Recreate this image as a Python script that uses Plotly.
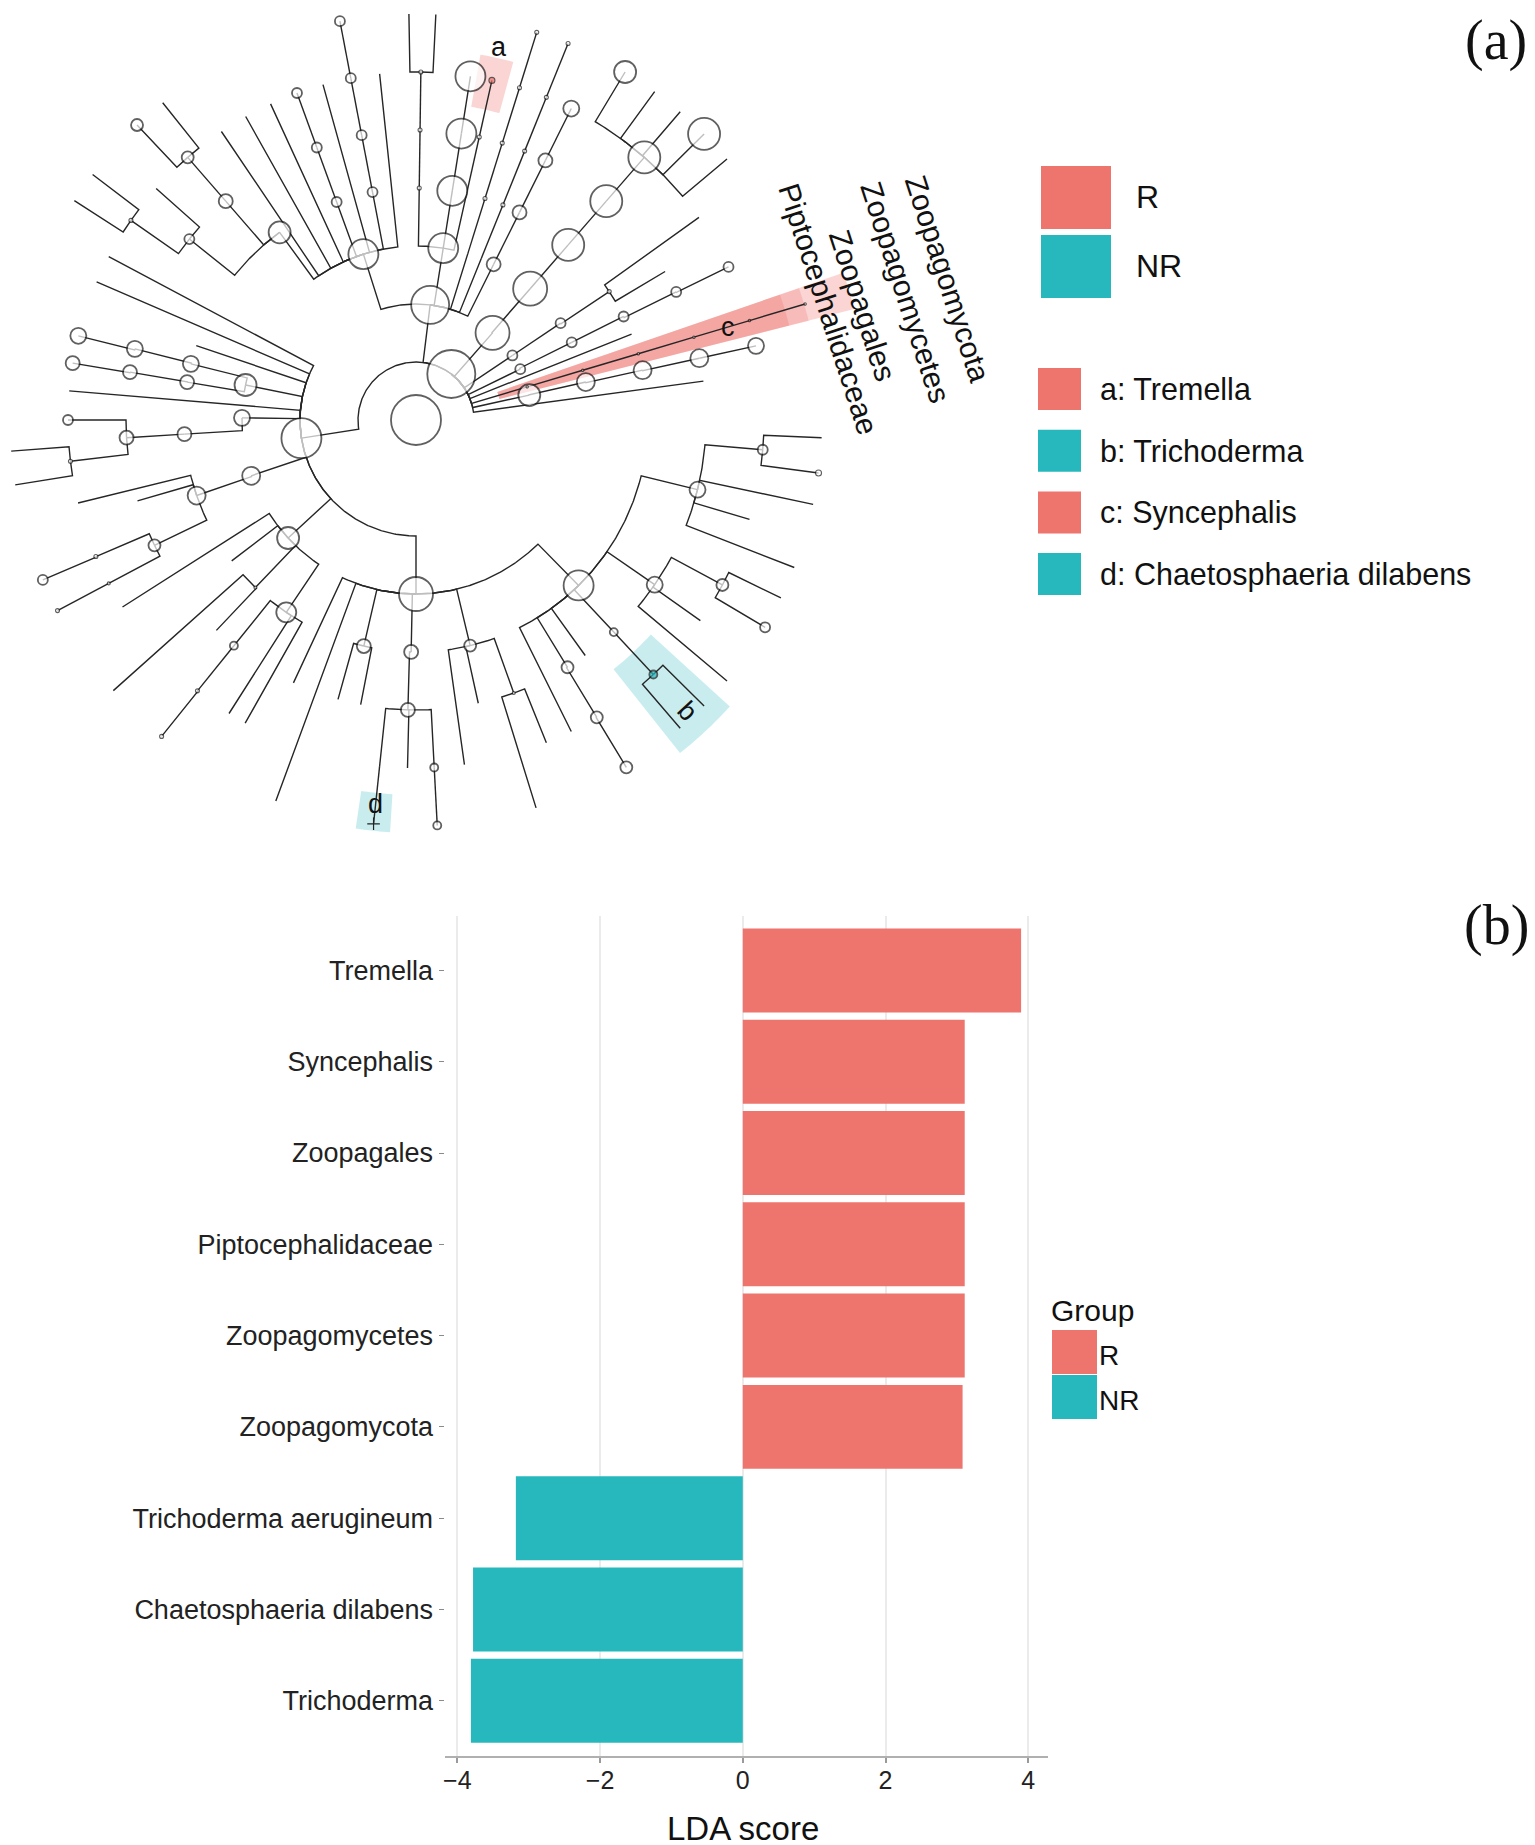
import math
import plotly.graph_objects as go

# ---------------- (b) LDA bar chart data ----------------
taxa = ["Tremella", "Syncephalis", "Zoopagales", "Piptocephalidaceae",
        "Zoopagomycetes", "Zoopagomycota", "Trichoderma aerugineum",
        "Chaetosphaeria dilabens", "Trichoderma"]
lda_score = [3.90, 3.11, 3.11, 3.11, 3.11, 3.08, -3.18, -3.78, -3.81]
taxon_group = ["R", "R", "R", "R", "R", "R", "NR", "NR", "NR"]
lda_ticks = [-4, -2, 0, 2, 4]
lda_tick_text = ["\u22124", "\u22122", "0", "2", "4"]
groups = ["R", "NR"]
group_color = {"R": "#EE746E", "NR": "#27B8BE"}

# ---------------- (a) cladogram data ----------------
# (node, parent, depth level, angle [deg, clockwise from east], node circle radius)
stem_nodes = [
    ("root", None, 0, 0, 25),
    ("V", None, 1, 240, 0),
    ("A", "V", 1, 307.5, 24),
    ("B", "V", 2, 171, 20),
]
clade_upper = [
    ("N1", "A", 2, 277, 19),
    ("c3", "N1", 3, 279, 15), ("c4", "c3", 4, 279, 15), ("c5", "c4", 5, 279, 15), ("c6", "c5", 6, 279, 15),
    ("p4", "c3", 4, 270.8, 2), ("p5", "p4", 5, 270.8, 2), ("p6", "p5", 6, 270.8, 2),
    ("p7a", "p6", 7, 269, 0), ("p7b", "p6", 7, 272.8, 0),
    ("a4", "c3", 4, 282.6, 0), ("a5", "a4", 5, 282.6, 2), ("a6", "a5", 6, 282.6, 3),
    ("al3", "N1", 3, 287.3, 0), ("al4", "al3", 4, 287.3, 2), ("al5", "al4", 5, 287.3, 2),
    ("al6", "al5", 6, 287.3, 2), ("al7", "al6", 7, 287.3, 2),
    ("be3", "N1", 3, 292, 0), ("be4", "be3", 4, 292, 2), ("be5", "be4", 5, 292, 2),
    ("be6", "be5", 6, 292, 2), ("be7", "be6", 7, 292, 2),
    ("ga3", "N1", 3, 296.5, 7), ("ga4", "ga3", 4, 296.5, 7), ("ga5", "ga4", 5, 296.5, 7), ("ga6", "ga5", 6, 296.5, 8),
    ("N2", "N1", 3, 252.4, 15),
    ("m4", "N2", 4, 259.2, 5), ("m5", "m4", 5, 259.2, 5), ("m6", "m5", 6, 259.2, 5), ("m7", "m6", 7, 259.2, 5),
    ("q4", "N2", 4, 250, 5), ("q5", "q4", 5, 250, 5), ("q6", "q5", 6, 250, 5),
    ("L1", "N2", 6, 264, 0), ("L2", "N2", 6, 254.5, 0), ("L3", "N2", 6, 245.3, 0),
    ("L4", "N2", 6, 240.7, 0), ("L5", "N2", 6, 236, 0),
    ("N3", "N2", 4, 234, 11),
    ("r5", "N3", 5, 229, 7), ("r6", "r5", 6, 229, 6), ("r7", "r6", 7, 226.6, 6), ("r7b", "r6", 7, 231.4, 0),
    ("s5", "N3", 5, 218.6, 5), ("s6", "s5", 6, 215, 2), ("s7a", "s6", 7, 217.2, 0),
    ("s7b", "s6", 7, 212.7, 0), ("s6b", "s5", 6, 221.7, 0),
]
clade_right = [
    ("h2", "A", 2, 311.3, 17), ("h3", "h2", 3, 311, 17), ("h4", "h3", 4, 311, 16),
    ("h5", "h4", 5, 311, 16), ("h6", "h5", 6, 311, 16),
    ("h7a", "h6", 7, 301, 11), ("h7b", "h6", 7, 315.2, 16), ("h7c", "h6", 7, 306, 0),
    ("h7d", "h6", 7, 310.6, 0), ("h7e", "h6", 7, 320, 0),
    ("de2", "A", 2, 326.2, 5), ("de3", "de2", 3, 326.2, 5), ("de4", "de3", 4, 326.4, 2),
    ("de6", "de4", 6, 324.4, 0), ("de5", "de4", 5, 329.2, 0),
    ("ep2", "A", 2, 334, 5), ("ep3", "ep2", 3, 333.5, 5), ("ep4", "ep3", 4, 333.5, 5),
    ("ep5", "ep4", 5, 333.8, 5), ("ep6", "ep5", 6, 333.9, 5),
    ("lf4", "A", 4, 338.3, 0),
    ("z2", "A", 2, 343.4, 1.2), ("z3", "z2", 3, 343.4, 1.2), ("z4", "z3", 4, 343.4, 1.2),
    ("z5", "z4", 5, 343.4, 1.2), ("z6", "z5", 6, 343.4, 1.2), ("z7", "z6", 7, 343.4, 1.2),
    ("ze2", "A", 2, 347.6, 11), ("ze3", "ze2", 3, 347.4, 9), ("ze4", "ze3", 4, 347.6, 9),
    ("ze5", "ze4", 5, 347.7, 9), ("ze6", "ze5", 6, 347.7, 8),
    ("lf5", "A", 5, 352.3, 0),
]
clade_left = [
    ("Lb1", "B", 6, 208, 0), ("Lb2", "B", 6, 203.4, 0), ("Lb3", "B", 4, 198.7, 0),
    ("b3", "B", 3, 191.6, 11), ("b4a", "b3", 4, 194, 8), ("b5a", "b4a", 5, 194.2, 8), ("b6a", "b5a", 6, 194, 8),
    ("b4b", "b3", 4, 189.4, 7), ("b5b", "b4b", 5, 189.5, 7), ("b6b", "b5b", 6, 189.4, 7),
    ("Lb4", "B", 6, 184.8, 0),
    ("k3", "B", 3, 180.7, 8), ("k4", "k3", 4, 176.5, 7), ("k5", "k4", 5, 176.5, 7),
    ("k6a", "k5", 6, 180, 5), ("k6b", "k5", 6, 173.2, 2), ("k7a", "k6b", 7, 175.6, 0), ("k7b", "k6b", 7, 170.8, 0),
    ("g3", "B", 3, 161.3, 9), ("g4", "g3", 4, 161, 9), ("Lg1", "g4", 6, 166.2, 0), ("Lg2", "g4", 5, 163.8, 0),
    ("g5", "g4", 5, 154.4, 6), ("g6a", "g5", 6, 156.9, 2), ("g7a", "g6a", 7, 156.8, 5),
    ("g6b", "g5", 6, 152, 1.5), ("g7b", "g6b", 7, 152, 2),
    ("F", "B", 3, 137.3, 11),
    ("Lf1", "F", 6, 147.5, 0), ("Lf2", "F", 4, 142.6, 0),
    ("f4a", "F", 4, 133.8, 1.5), ("Lf3", "f4a", 5, 133.5, 0), ("Lf4", "f4a", 7, 138.2, 0),
    ("f4b", "F", 4, 124, 10), ("f5", "f4b", 5, 128.9, 4), ("f6", "f5", 6, 128.9, 2), ("f7", "f6", 7, 128.8, 2),
    ("Lf5", "f4b", 6, 122.5, 0), ("Lf6", "f4b", 6, 119.4, 0),
]
clade_lower = [
    ("C", "B", 3, 90, 17),
    ("Lc1", "C", 7, 110.2, 0), ("Lc2", "C", 5, 115, 0),
    ("c4a", "C", 4, 103, 7), ("Lc3", "c4a", 5, 105.6, 0), ("Lc4", "c4a", 5, 101, 0),
    ("cc4", "C", 4, 91.2, 7), ("cc5", "cc4", 5, 91.6, 7),
    ("dd6", "cc5", 6, 96, 0), ("dd7", "dd6", 7, 96, 0), ("Lc5", "cc5", 6, 91.4, 0),
    ("cc6b", "cc5", 6, 87, 4), ("cc7b", "cc6b", 7, 87, 4),
    ("c4c", "C", 4, 76.5, 6), ("Lc6", "c4c", 6, 82, 0), ("Lc7", "c4c", 5, 77.6, 0),
    ("c5c", "c4c", 5, 70.3, 1.5), ("Lc8", "c5c", 7, 72.8, 0), ("Lc9", "c5c", 6, 68, 0),
    ("D", "C", 4, 45.5, 15),
]
clade_d = [
    ("Ld1", "D", 6, 63.5, 0),
    ("d5a", "D", 5, 58.5, 6), ("d6a", "d5a", 6, 58.7, 6), ("d7a", "d6a", 7, 58.8, 6),
    ("Ld2", "D", 5, 54.3, 0),
    ("d5b", "D", 5, 47, 4), ("bT", "d5b", 6, 47, 4), ("Ld3", "bT", 7, 49.4, 0), ("Ld4", "bT", 7, 44.8, 0),
    ("d5c", "D", 5, 34.6, 8), ("Ld5", "d5c", 7, 40, 0), ("Ld6", "d5c", 6, 35.2, 0),
    ("d6c", "d5c", 6, 28.3, 6), ("d7c", "d6c", 7, 30.7, 5), ("Ld7", "d6c", 7, 26, 0),
    ("E", "D", 5, 13.9, 8), ("e6", "E", 6, 4.9, 5), ("Le1", "e6", 7, 2.5, 0), ("e7b", "e6", 7, 7.5, 3),
    ("Le2", "E", 7, 12, 0), ("Le3", "E", 6, 16.6, 0), ("Le4", "E", 7, 21.3, 0),
]

biomarker_letter = ["a", "b", "c", "d"]
biomarker_taxon = ["Tremella", "Trichoderma", "Syncephalis", "Chaetosphaeria dilabens"]
biomarker_group = ["R", "NR", "R", "NR"]
biomarker_node = ["a6", "bT", "z6", "dd7"]
clade_path_labels = ["Zoopagomycota", "Zoopagomycetes", "Zoopagales", "Piptocephalidaceae"]

# ---------------- layout / geometry constants ----------------
W, H = 1535, 1845
CX, CY = 408, 412      # centre of the cladogram (px)
RING = 58              # px per taxonomic level
LINE = "#262626"
FONT = "Liberation Sans, Arial, sans-serif"
SERIF = "Liberation Serif, Times New Roman, serif"

nodes = stem_nodes + clade_upper + clade_right + clade_left + clade_lower + clade_d
info = {n[0]: n for n in nodes}


def polar(r, ang):
    a = math.radians(ang)
    return CX + r * math.cos(a), CY + r * math.sin(a)


fig = go.Figure()

# highlight wedges (drawn as shapes, below the tree)
hl_extent = {"a": (2.6, 318, 371, 0.30), "b": (4.6, 318, 425, 0.25),
             "c": (2.4, 86, 452, 0.30), "d": (2.4, 375, 413, 0.25)}
hl_label_r = {"a": 382, "b": 398, "c": 326, "d": 386}
hl_label_rot = {"a": 0, "b": 47, "c": 0, "d": 0}


def rgba(hexc, a):
    h = hexc.lstrip("#")
    return "rgba(%d,%d,%d,%.2f)" % (int(h[0:2], 16), int(h[2:4], 16), int(h[4:6], 16), a)


def wedge(ang, half, r0, r1):
    n = 10
    pts = []
    for i in range(n + 1):
        t = ang - half + 2 * half * i / n
        pts.append(polar(r1, t))
    for i in range(n, -1, -1):
        t = ang - half + 2 * half * i / n
        pts.append(polar(r0, t))
    return "M " + " L ".join("%.2f,%.2f" % p for p in pts) + " Z"


shapes = []
annotations = []
for letter, grp, node in zip(biomarker_letter, biomarker_group, biomarker_node):
    ang = info[node][3]
    half, r0, r1, alpha = hl_extent[letter]
    col = group_color[grp]
    shapes.append(dict(type="path", path=wedge(ang, half, r0, r1), xref="x", yref="y",
                       fillcolor=rgba(col, alpha), line=dict(width=0), layer="below"))
    if letter == "c":
        shapes.append(dict(type="path", path=wedge(ang, half, r0, 405), xref="x", yref="y",
                           fillcolor=rgba(col, 0.25), line=dict(width=0), layer="below"))
        shapes.append(dict(type="path", path=wedge(ang, half, r0, 385), xref="x", yref="y",
                           fillcolor=rgba(col, 0.30), line=dict(width=0), layer="below"))
    lx, ly = polar(hl_label_r[letter], ang)
    annotations.append(dict(x=lx, y=ly, xref="x", yref="y", text=letter, showarrow=False,
                            textangle=hl_label_rot[letter],
                            font=dict(family=FONT, size=27, color="#111")))

# tree edges: arc at the parent's radius, then a radial segment to the child
ex, ey = [], []
for name, parent, lvl, ang, rad in nodes:
    if parent is None:
        continue
    plvl, pang = info[parent][2], info[parent][3]
    rp = plvl * RING
    steps = max(1, int(abs(ang - pang) / 0.5))
    for i in range(steps + 1):
        x, y = polar(rp, pang + (ang - pang) * i / steps)
        ex.append(x)
        ey.append(y)
    x, y = polar(lvl * RING, ang)
    ex.append(x)
    ey.append(y)
    ex.append(None)
    ey.append(None)

fig.add_trace(go.Scatter(x=ex, y=ey, mode="lines", line=dict(color=LINE, width=1.4),
                         hoverinfo="skip", showlegend=False, xaxis="x", yaxis="y"))

# node circles
special_fill = {node: group_color[g] for node, g in zip(biomarker_node, biomarker_group)}
ordered = sorted([n for n in nodes if n[4] > 0], key=lambda n: -n[4])
mx, my, ms, mc, mw = [], [], [], [], []
for name, parent, lvl, ang, rad in ordered:
    x, y = polar(lvl * RING, ang)
    mx.append(x)
    my.append(y)
    ms.append(2 * rad)
    mc.append(special_fill.get(name, "white"))
    mw.append(1.8 if rad > 3 else 1.1)
fig.add_trace(go.Scatter(x=mx, y=my, mode="markers",
                         marker=dict(size=ms, color=mc, line=dict(color="#1e1e1e", width=mw)),
                         hoverinfo="skip", showlegend=False, xaxis="x", yaxis="y"))
# tip marker of d
dx_, dy_ = polar(info["dd7"][2] * RING, info["dd7"][3])
fig.add_trace(go.Scatter(x=[dx_], y=[dy_], mode="markers",
                         marker=dict(symbol="cross-thin", size=9, line=dict(color="#222", width=1.2)),
                         hoverinfo="skip", showlegend=False, xaxis="x", yaxis="y"))

# rotated clade-path labels
path_label_pos = [(940, 270), (898, 284), (855, 297), (821, 301)]
for txt, (px, py) in zip(clade_path_labels, path_label_pos):
    annotations.append(dict(x=px, y=py, xref="x", yref="y", text=txt, showarrow=False,
                            textangle=72, font=dict(family=FONT, size=30, color="#111")))

# top legend: groups
for i, g in enumerate(groups):
    y0 = 158 + i * 69
    shapes.append(dict(type="rect", xref="x", yref="y", x0=1033, x1=1103, y0=y0, y1=y0 + 63,
                       fillcolor=group_color[g], line=dict(width=0)))
    annotations.append(dict(x=1126, y=y0 + 31, xref="x", yref="y", text=g, showarrow=False,
                            xanchor="left", font=dict(family=FONT, size=32, color="#111")))
# top legend: biomarkers
for i, (letter, tax, g) in enumerate(zip(biomarker_letter, biomarker_taxon, biomarker_group)):
    y0 = 360 + i * 61.7
    shapes.append(dict(type="rect", xref="x", yref="y", x0=1030, x1=1073, y0=y0, y1=y0 + 42,
                       fillcolor=group_color[g], line=dict(width=0)))
    annotations.append(dict(x=1090, y=y0 + 21, xref="x", yref="y", text="%s: %s" % (letter, tax),
                            showarrow=False, xanchor="left",
                            font=dict(family=FONT, size=30.5, color="#111")))

# ---------------- bar chart ----------------
for g in groups:
    ys = [i for i, gg in enumerate(taxon_group) if gg == g]
    fig.add_trace(go.Bar(x=[lda_score[i] for i in ys], y=ys, orientation="h", name=g,
                         marker=dict(color=group_color[g], line=dict(width=0)), width=0.92,
                         showlegend=False, hoverinfo="skip", xaxis="x2", yaxis="y2"))

# bottom legend
annotations.append(dict(x=1041, y=1302, xref="x", yref="y", text="Group", showarrow=False,
                        xanchor="left", font=dict(family=FONT, size=30, color="#111")))
for i, g in enumerate(groups):
    y0 = 1322 + i * 45
    shapes.append(dict(type="rect", xref="x", yref="y", x0=1044, x1=1089, y0=y0, y1=y0 + 44,
                       fillcolor=group_color[g], line=dict(width=0)))
    annotations.append(dict(x=1089, y=y0 + 25, xref="x", yref="y", text=g, showarrow=False,
                            xanchor="left", font=dict(family=FONT, size=28, color="#111")))

annotations.append(dict(x=735, y=1820, xref="x", yref="y", text="LDA score", showarrow=False,
                        font=dict(family=FONT, size=33, color="#111")))
annotations.append(dict(x=1488, y=32, xref="x", yref="y", text="(a)", showarrow=False,
                        font=dict(family=SERIF, size=56, color="#111")))
annotations.append(dict(x=1488, y=917, xref="x", yref="y", text="(b)", showarrow=False,
                        font=dict(family=SERIF, size=56, color="#111")))

x_left, x_right = 436.5, 1040
y_top, y_bot = 907.7, 1747.5

fig.update_layout(
    width=W, height=H, margin=dict(l=0, r=0, t=0, b=0),
    paper_bgcolor="white", plot_bgcolor="rgba(0,0,0,0)",
    showlegend=False, hovermode=False,
    shapes=shapes, annotations=annotations,
    xaxis=dict(domain=[0, 1], range=[0, W], visible=False, fixedrange=True),
    yaxis=dict(domain=[0, 1], range=[H, 0], visible=False, fixedrange=True),
    xaxis2=dict(domain=[x_left / W, x_right / W], range=[-4.18, 4.277], anchor="y2",
                tickvals=lda_ticks, ticktext=lda_tick_text, showgrid=True, gridcolor="#EBEBEB",
                gridwidth=1.5, zeroline=False, showline=True, linecolor="#B0B0B0", linewidth=2,
                ticks="outside", ticklen=5, tickcolor="#9a9a9a", tickwidth=1.5,
                ticklabelstandoff=-4,
                tickfont=dict(family=FONT, size=25, color="#222")),
    yaxis2=dict(domain=[1 - y_bot / H, 1 - y_top / H], range=[8.6, -0.6], anchor="x2",
                tickvals=list(range(len(taxa))), ticktext=taxa, showgrid=False, zeroline=False,
                showline=False, ticks="outside", ticklen=5, tickcolor="#8a8a8a", tickwidth=1.2,
                tickfont=dict(family=FONT, size=27, color="#222")),
    bargap=0.08,
)

fig.write_html("out.html")
